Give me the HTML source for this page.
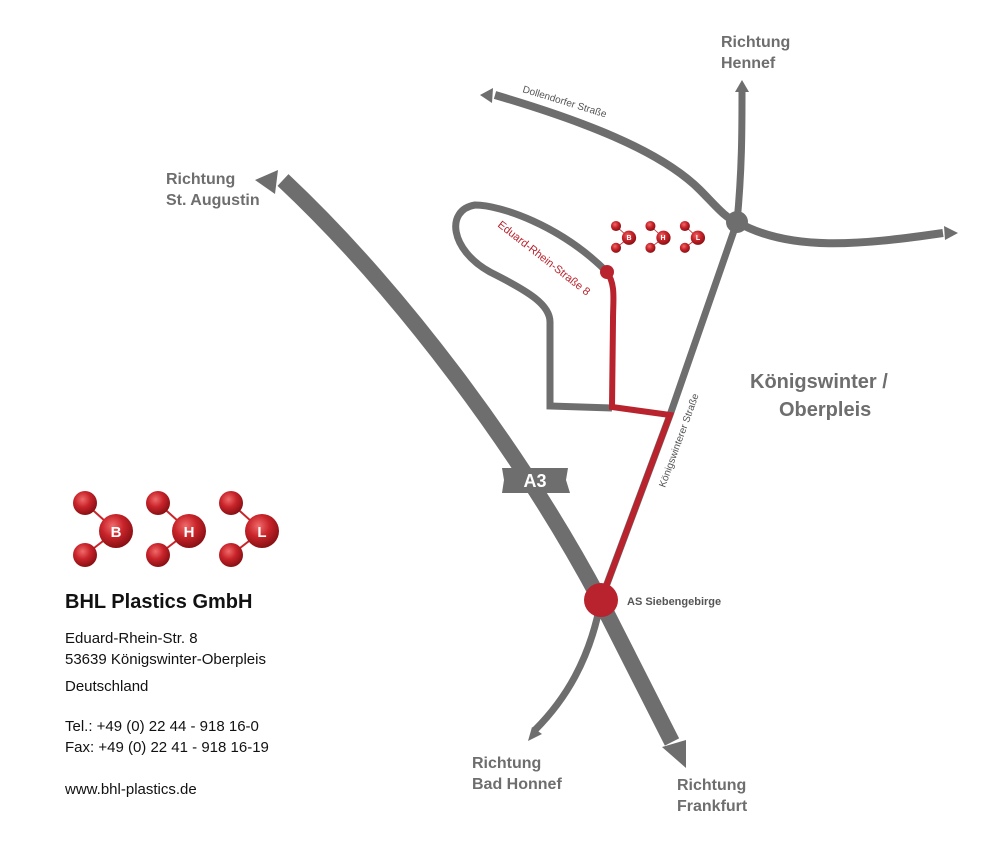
<!DOCTYPE html>
<html><head><meta charset="utf-8"><style>
body{margin:0;background:#fff;width:1000px;height:856px;overflow:hidden}
svg text{font-family:"Liberation Sans",sans-serif}
</style></head><body>
<svg width="1000" height="856" viewBox="0 0 1000 856">
<defs>
<radialGradient id="rb" cx="0.4" cy="0.35" r="0.65"><stop offset="0" stop-color="#f06a6a"/><stop offset="0.5" stop-color="#c8242a"/><stop offset="1" stop-color="#8a1014"/></radialGradient>
<g id="mol">
<line x1="0" y1="0" x2="31" y2="28" stroke="#c8242a" stroke-width="2"/>
<line x1="0" y1="52" x2="31" y2="28" stroke="#c8242a" stroke-width="2"/>
<circle cx="0" cy="0" r="12" fill="url(#rb)"/>
<circle cx="0" cy="52" r="12" fill="url(#rb)"/>
<circle cx="31" cy="28" r="17" fill="url(#rb)"/>
</g>
</defs>
<g fill="none" stroke="#6e6e6e" stroke-linecap="butt">
<path d="M283,180 C400,290 520,450 600,600 L672,742" stroke-width="16"/>
<path d="M601,600 C590,660 565,700 535,730" stroke-width="7"/>
<path d="M601,600 L670,415 L737,222" stroke-width="7"/>
<path d="M737,222 C742,170 742,130 742,92" stroke-width="7"/>
<path d="M495,95 C580,120 660,150 700,190 C715,205 725,218 737,222 C790,252 860,245 943,233" stroke-width="8"/>
<path d="M607,272 C560,225 500,205 475,205 C445,210 450,250 490,272 C530,292 550,305 550,322 L550,406 L612,408" stroke-width="7"/>
</g>
<circle cx="737" cy="222" r="11" fill="#6e6e6e"/>
<g fill="#6e6e6e">
<polygon points="255,180 278,170 275,194"/>
<polygon points="662,747 686,740 686,768"/>
<polygon points="528,741 532,727 542,734"/>
<polygon points="742,80 735,92 749,92"/>
<polygon points="480,95 493,88 492,103"/>
<polygon points="958,233 944,226 945,240"/>
<path d="M502,468 L568,468 L566,480 L570,493 L502,493 L504,480 Z"/>
</g>
<text x="535" y="487" fill="#fff" font-size="18" font-weight="bold" text-anchor="middle">A3</text>
<path d="M607,272 C616,285 613,300 613,320 L612,407 L670,415 L601,600" fill="none" stroke="#b8232d" stroke-width="6"/>
<circle cx="607" cy="272" r="7" fill="#b8232d"/>
<circle cx="601" cy="600" r="17" fill="#b8232d"/>
<g transform="translate(616,226) scale(0.42)">
<use href="#mol"/><use href="#mol" x="82"/><use href="#mol" x="164"/>
</g>
<g font-size="7" font-weight="bold" fill="#fff" text-anchor="middle">
<text x="629" y="240">B</text><text x="663" y="240">H</text><text x="698" y="240">L</text>
</g>
<g transform="translate(85,503)"><use href="#mol"/><use href="#mol" x="73"/><use href="#mol" x="146"/></g>
<g font-size="15" font-weight="bold" fill="#fff" text-anchor="middle">
<text x="116" y="537">B</text><text x="189" y="537">H</text><text x="262" y="537">L</text>
</g>
<g fill="#6e6e6e" font-weight="bold" font-size="16">
<text x="721" y="47">Richtung</text><text x="721" y="68">Hennef</text>
<text x="166" y="184">Richtung</text><text x="166" y="205">St. Augustin</text>
<text x="472" y="768">Richtung</text><text x="472" y="789">Bad Honnef</text>
<text x="677" y="790">Richtung</text><text x="677" y="811">Frankfurt</text>
<text x="750" y="388" font-size="20">Königswinter /</text>
<text x="779" y="416" font-size="20">Oberpleis</text>
</g>
<text x="627" y="605" font-size="11" font-weight="bold" fill="#555">AS Siebengebirge</text>
<text transform="translate(522,92) rotate(17)" font-size="10" fill="#555">Dollendorfer Straße</text>
<text transform="translate(665,488) rotate(-70)" font-size="10" fill="#555">Königswinterer Straße</text>
<text transform="translate(497,226) rotate(38)" font-size="11" fill="#b8232d">Eduard-Rhein-Straße 8</text>
<g fill="#111" font-size="15">
<text x="65" y="608" font-size="20" font-weight="bold">BHL Plastics GmbH</text>
<text x="65" y="643">Eduard-Rhein-Str. 8</text>
<text x="65" y="664">53639 Königswinter-Oberpleis</text>
<text x="65" y="691">Deutschland</text>
<text x="65" y="731">Tel.: +49 (0) 22 44 - 918 16-0</text>
<text x="65" y="752">Fax: +49 (0) 22 41 - 918 16-19</text>
<text x="65" y="794">www.bhl-plastics.de</text>
</g>
</svg>
</body></html>
